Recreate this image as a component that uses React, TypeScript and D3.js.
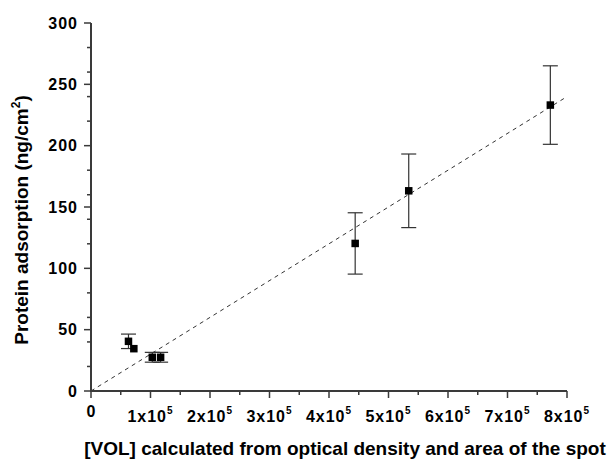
// Protein adsorption vs [VOL] scatter with error bars and linear fit
import React from "react";
import { scaleLinear, line } from "d3";

const width = 612;
const height = 459;
const margin = { top: 23, bottom: 68, left: 91, right: 45 };

// measured points (VOL, ng/cm2, +/- error)
const volValues = [63000, 72000, 103000, 117000, 444000, 534000, 772000];
const adsorption = [40.5, 34.5, 27.5, 27.5, 120.3, 163.2, 233.1];
const errors = [5.9, 0, 4, 4, 25, 30, 32];

// dashed linear fit through the origin
const fitX = [0, 795000];
const fitY = [0, 238.5];

const xTicks = [0, 100000, 200000, 300000, 400000, 500000, 600000, 700000, 800000];
const yTicks = [0, 50, 100, 150, 200, 250, 300];

const font = "'Liberation Sans', Arial, Helvetica, sans-serif";
const axisColor = "#3a3a3a";

const App = () => {
    const innerWidth = width - margin.left - margin.right;
    const innerHeight = height - margin.top - margin.bottom;

    const xScale = scaleLinear().domain([0, 800000]).range([0, innerWidth]);
    const yScale = scaleLinear().domain([0, 300]).range([innerHeight, 0]);

    const xMinor = xScale.ticks(16).filter((t) => !xTicks.includes(t));
    const yMinor = yScale.ticks(12).filter((t) => !yTicks.includes(t));

    const fitPath = line<number>()
        .x((d, i) => xScale(d))
        .y((d, i) => yScale(fitY[i]))(fitX);

    const sq = 7.5;
    const cap = 7.5;

    return (
        <svg
            width={width}
            height={height}
            style={{ position: "absolute", left: 0, top: 0, background: "#fff" }}
            fontFamily={font}
            fontWeight="bold"
        >
            <g transform={`translate(${margin.left},${margin.top})`}>
                {/* fit line */}
                <path
                    d={fitPath || ""}
                    fill="none"
                    stroke="#333"
                    strokeWidth={1}
                    strokeDasharray="4,4"
                />

                {/* error bars */}
                {volValues.map((v, i) =>
                    errors[i] > 0 ? (
                        <g key={"e" + i} stroke="#333" strokeWidth={1.2}>
                            <line
                                x1={xScale(v)}
                                x2={xScale(v)}
                                y1={yScale(adsorption[i] + errors[i])}
                                y2={yScale(adsorption[i] - errors[i])}
                            />
                            <line
                                x1={xScale(v) - cap}
                                x2={xScale(v) + cap}
                                y1={yScale(adsorption[i] + errors[i])}
                                y2={yScale(adsorption[i] + errors[i])}
                            />
                            <line
                                x1={xScale(v) - cap}
                                x2={xScale(v) + cap}
                                y1={yScale(adsorption[i] - errors[i])}
                                y2={yScale(adsorption[i] - errors[i])}
                            />
                        </g>
                    ) : null
                )}

                {/* points */}
                {volValues.map((v, i) => (
                    <rect
                        key={"p" + i}
                        x={xScale(v) - sq / 2}
                        y={yScale(adsorption[i]) - sq / 2}
                        width={sq}
                        height={sq}
                        fill="#000"
                    />
                ))}

                {/* y axis */}
                <line x1={0} x2={0} y1={0} y2={innerHeight + 1} stroke={axisColor} strokeWidth={2} />
                {yTicks.map((t) => (
                    <g key={"yt" + t}>
                        <line x1={-7} x2={0} y1={yScale(t)} y2={yScale(t)} stroke={axisColor} strokeWidth={1.5} />
                        <text
                            x={-13}
                            y={yScale(t)}
                            dy="0.36em"
                            textAnchor="end"
                            fontSize={16}
                            letterSpacing={1}
                            fill="#000"
                        >
                            {t}
                        </text>
                    </g>
                ))}
                {yMinor.map((t) => (
                    <line key={"ym" + t} x1={-4} x2={0} y1={yScale(t)} y2={yScale(t)} stroke={axisColor} strokeWidth={1.5} />
                ))}

                {/* x axis */}
                <line x1={-1} x2={innerWidth} y1={innerHeight} y2={innerHeight} stroke={axisColor} strokeWidth={2} />
                {xTicks.map((t) => (
                    <g key={"xt" + t}>
                        <line x1={xScale(t)} x2={xScale(t)} y1={innerHeight} y2={innerHeight + 7} stroke={axisColor} strokeWidth={1.5} />
                        {t === 0 ? (
                            <text x={xScale(t)} y={innerHeight + 26} textAnchor="middle" fontSize={16} fill="#000">
                                0
                            </text>
                        ) : (
                            <text x={xScale(t)} y={innerHeight + 31} textAnchor="middle" fontSize={16} letterSpacing={1} fill="#000">
                                {`${t / 100000}x10`}
                                <tspan fontSize={10} dy={-8}>5</tspan>
                            </text>
                        )}
                    </g>
                ))}
                {xMinor.map((t) => (
                    <line key={"xm" + t} x1={xScale(t)} x2={xScale(t)} y1={innerHeight} y2={innerHeight + 4} stroke={axisColor} strokeWidth={1.5} />
                ))}

                {/* titles */}
                <text
                    transform={`translate(${28 - margin.left},${220 - margin.top}) rotate(-90)`}
                    textAnchor="middle"
                    fontSize={19}
                    fill="#000"
                >
                    Protein adsorption (ng/cm
                    <tspan fontSize={12} dy={-8}>2</tspan>
                    <tspan dy={8}>)</tspan>
                </text>
                <text
                    x={345 - margin.left}
                    y={455 - margin.top}
                    textAnchor="middle"
                    fontSize={19}
                    fill="#000"
                >
                    [VOL] calculated from optical density and area of the spot
                </text>
            </g>
        </svg>
    );
};

export default App;
